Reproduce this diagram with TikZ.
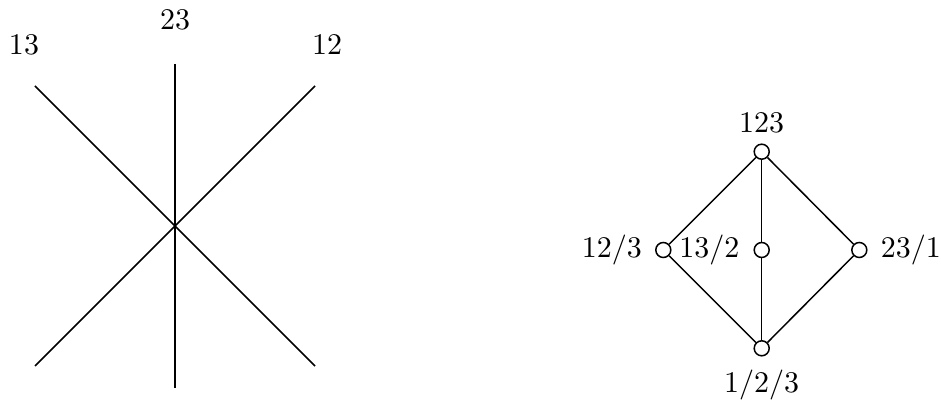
\documentclass[tikz,border=0pt]{standalone}
\begin{document}
\begin{tikzpicture}[x=0.3333pt, y=-0.3333pt, line width=0.5pt,
  vtx/.style={circle, draw, fill=white, minimum size=5pt, inner sep=0pt},
  lbl/.style={inner sep=0pt, anchor=center}]
\useasboundingbox (0,0) rectangle (941,401);

% --- arrangement of three lines in the plane ---
\coordinate (d1a) at (35,86);
\coordinate (d1b) at (315,366);
\coordinate (d2a) at (315,86);
\coordinate (d2b) at (35,366);
\coordinate (va) at (175,64);
\coordinate (vb) at (175,388);
\draw (d1a) -- (d1b);
\draw (d2a) -- (d2b);
\draw (va) -- (vb);
\node[lbl] (l13) at (24,45) {$13$};
\node[lbl] (l23) at (175,20) {$23$};
\node[lbl] (l12) at (327,45) {$12$};

% --- partition lattice Pi_3 ---
\node[vtx] (top) at (761.7,151.7) {};
\node[vtx] (a) at (663.3,250) {};
\node[vtx] (b) at (761.7,250) {};
\node[vtx] (c) at (859.3,250) {};
\node[vtx] (bot) at (761.7,348.3) {};
\draw (top) -- (a) -- (bot);
\draw (top) -- (b) -- (bot);
\draw (top) -- (c) -- (bot);
\node[lbl, anchor=south] (ltop) at ([yshift=6pt]top.center) {$123$};
\node[lbl, anchor=east] (la) at (642.7,250) {$12/3$};
\node[lbl, anchor=east] (lb) at (740,250) {$13/2$};
\node[lbl, anchor=west] (lc) at (880,250) {$23/1$};
\node[lbl, anchor=north] (lbot) at ([yshift=-7pt]bot.center) {$1/2/3$};
\end{tikzpicture}
\end{document}
